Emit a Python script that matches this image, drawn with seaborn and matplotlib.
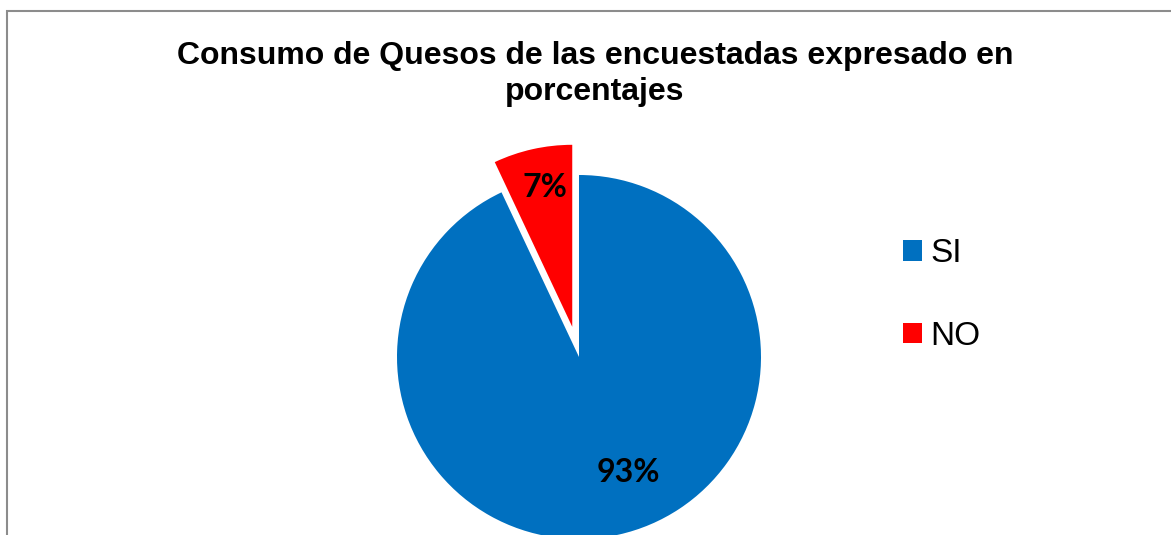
import matplotlib
matplotlib.use("Agg")
import matplotlib.pyplot as plt
import matplotlib.patches as mpatches
import seaborn as sns

categories = ["SI", "NO"]
values = [93, 7]
pct_labels = ["93%", "7%"]
title = "Consumo de Quesos de las encuestadas expresado en\nporcentajes"

sns.set_theme(style="white")
plt.rcParams['font.family'] = ['Liberation Sans', 'DejaVu Sans']
plt.rcParams['text.color'] = 'black'

W, H = 1171, 535
fig = plt.figure(figsize=(W / 100, H / 100), dpi=100)
fig.patch.set_facecolor("white")

# border
fig.patches.append(mpatches.Rectangle((7 / W, -0.1), 1.2, (H - 11) / H + 0.1,
                                      transform=fig.transFigure, fill=False,
                                      edgecolor="#8c8c8c", linewidth=1.5))

# pie axes placed in pixel geometry
R = 182.0
cx, cy = 579.0, H - 357.0
x0, x1 = 300.0, 860.0
ax = fig.add_axes([x0 / W, 0, (x1 - x0) / W, 1])

colors = ["#0070C0", "#FF0000"]
wedges, _ = ax.pie(values, colors=colors, startangle=90, counterclock=False,
                   explode=[0, 0.17], radius=1.0,
                   wedgeprops=dict(linewidth=0))
ax.set_xlim((x0 - cx) / R, (x1 - cx) / R)
ax.set_ylim(-cy / R, (H - cy) / R)
ax.set_aspect("equal", adjustable="box")
ax.axis("off")

# percentage labels
label_pos = [((628 - cx) / R, (H - 473 - cy) / R), ((545 - cx) / R, (H - 188 - cy) / R)]
for (lx, ly), t in zip(label_pos, pct_labels):
    ax.text(lx, ly, t, ha="center", va="center", fontsize=23, fontweight="bold",
            family=["Lato", "DejaVu Sans"], color="black")

fig.text(595 / W, 1 - 74 / H, title, ha="center", va="center", fontsize=23,
         fontweight="bold", linespacing=1.25, color="black")

handles = [mpatches.Patch(facecolor=c, edgecolor="none", label=l) for c, l in zip(colors, categories)]
leg = fig.legend(handles=handles, loc="center left", bbox_to_anchor=(890 / W, 1 - 295 / H),
                 frameon=False, fontsize=24, handlelength=0.57, handleheight=0.57,
                 handletextpad=0.25, labelspacing=1.55, borderaxespad=0)
for t in leg.get_texts():
    t.set_color("black")

fig.savefig("out.png", dpi=100, facecolor="white")
